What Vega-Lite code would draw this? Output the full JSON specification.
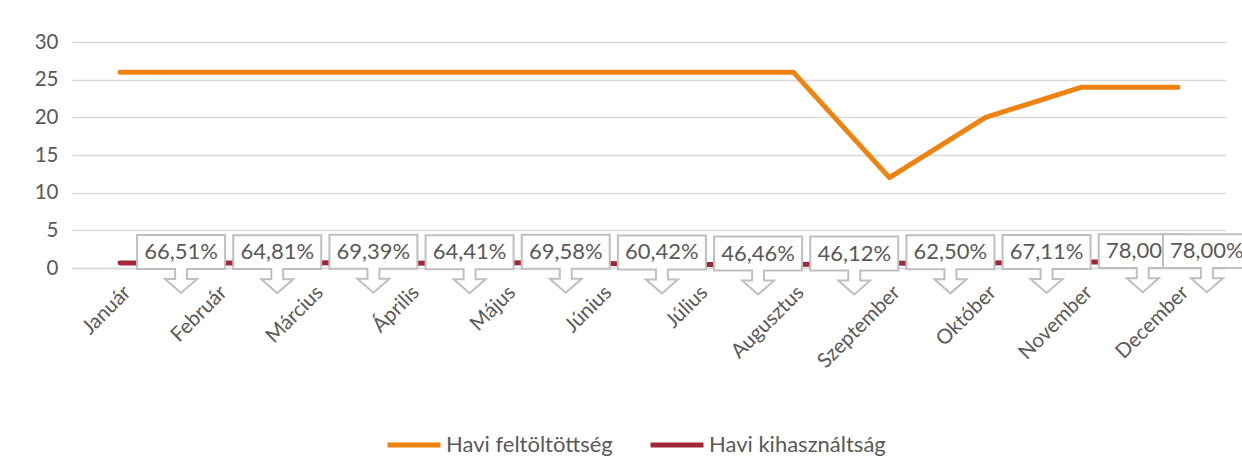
{
  "$schema": "https://vega.github.io/schema/vega-lite/v6.json",
  "width": 1154,
  "height": 226,
  "autosize": "none",
  "padding": {"left": 72, "top": 42, "right": 16, "bottom": 191},
  "background": "white",
  "config": {
    "view": {"stroke": null},
    "font": "Lato",
    "axis": {"labelFont": "Lato", "labelColor": "#595959", "labelFontSize": 20.5, "titleFont": "Lato"},
    "legend": {"labelFont": "Lato", "labelColor": "#595959", "labelFontSize": 22, "labelLimit": 400}
  },
  "data": {
    "values": [
      {"month": "Január", "series": "Havi feltöltöttség", "value": 26},
      {"month": "Február", "series": "Havi feltöltöttség", "value": 26},
      {"month": "Március", "series": "Havi feltöltöttség", "value": 26},
      {"month": "Április", "series": "Havi feltöltöttség", "value": 26},
      {"month": "Május", "series": "Havi feltöltöttség", "value": 26},
      {"month": "Június", "series": "Havi feltöltöttség", "value": 26},
      {"month": "Július", "series": "Havi feltöltöttség", "value": 26},
      {"month": "Augusztus", "series": "Havi feltöltöttség", "value": 26},
      {"month": "Szeptember", "series": "Havi feltöltöttség", "value": 12},
      {"month": "Október", "series": "Havi feltöltöttség", "value": 20},
      {"month": "November", "series": "Havi feltöltöttség", "value": 24},
      {"month": "December", "series": "Havi feltöltöttség", "value": 24},
      {"month": "Január", "series": "Havi kihasználtság", "value": 0.6651, "label": "66,51%"},
      {"month": "Február", "series": "Havi kihasználtság", "value": 0.6481, "label": "64,81%"},
      {"month": "Március", "series": "Havi kihasználtság", "value": 0.6939, "label": "69,39%"},
      {"month": "Április", "series": "Havi kihasználtság", "value": 0.6441, "label": "64,41%"},
      {"month": "Május", "series": "Havi kihasználtság", "value": 0.6958, "label": "69,58%"},
      {"month": "Június", "series": "Havi kihasználtság", "value": 0.6042, "label": "60,42%"},
      {"month": "Július", "series": "Havi kihasználtság", "value": 0.4646, "label": "46,46%"},
      {"month": "Augusztus", "series": "Havi kihasználtság", "value": 0.4612, "label": "46,12%"},
      {"month": "Szeptember", "series": "Havi kihasználtság", "value": 0.625, "label": "62,50%"},
      {"month": "Október", "series": "Havi kihasználtság", "value": 0.6711, "label": "67,11%"},
      {"month": "November", "series": "Havi kihasználtság", "value": 0.78, "label": "78,00%"},
      {"month": "December", "series": "Havi kihasználtság", "value": 0.78, "label": "78,00%"}
    ]
  },
  "encoding": {
    "x": {
      "field": "month",
      "type": "nominal",
      "sort": null,
      "scale": {"type": "point", "padding": 0.5},
      "axis": {
        "title": null,
        "labelAngle": -45,
        "labelAlign": "right",
        "labelBaseline": "top",
        "labelPadding": 14,
        "ticks": false,
        "domain": true,
        "domainColor": "#d9d9d9",
        "domainWidth": 1.5,
        "grid": false
      }
    },
    "y": {
      "field": "value",
      "type": "quantitative",
      "scale": {"domain": [0, 30], "nice": false},
      "axis": {
        "title": null,
        "values": [0, 5, 10, 15, 20, 25, 30],
        "domain": false,
        "ticks": false,
        "labelPadding": 14,
        "gridColor": "#d9d9d9",
        "gridWidth": 1.5
      }
    }
  },
  "layer": [
    {
      "mark": {"type": "line", "strokeWidth": 5, "strokeCap": "round", "strokeJoin": "round"},
      "encoding": {
        "color": {
          "field": "series",
          "type": "nominal",
          "sort": ["Havi feltöltöttség", "Havi kihasználtság"],
          "scale": {"domain": ["Havi feltöltöttség", "Havi kihasználtság"], "range": ["#f0820f", "#a32638"]},
          "legend": {
            "title": null,
            "orient": "none",
            "direction": "horizontal",
            "legendX": 313,
            "legendY": 374,
            "symbolType": "stroke",
            "symbolSize": 2809,
            "symbolStrokeWidth": 5,
            "labelOffset": 3,
            "columnPadding": 27
          }
        }
      }
    },
    {
      "transform": [{"filter": "datum.series === 'Havi kihasználtság' && datum.month !== 'December'"}],
      "mark": {
        "type": "point",
        "shape": "M-1,-0.636 H1 V0.136 H0.136 V0.364 H0.364 L0,0.682 L-0.364,0.364 H-0.136 V0.136 H-1 Z",
        "size": 7744,
        "filled": true,
        "fill": "white",
        "fillOpacity": 1,
        "opacity": 1,
        "stroke": "#bfbfbf",
        "strokeWidth": 2,
        "xOffset": 61
      }
    },
    {
      "transform": [{"filter": "datum.series === 'Havi kihasználtság' && datum.month !== 'December'"}],
      "mark": {"type": "text", "font": "Lato", "fontSize": 22, "color": "#595959", "baseline": "middle", "align": "center", "xOffset": 61, "dy": -11},
      "encoding": {"text": {"field": "label"}}
    },
    {
      "transform": [{"filter": "datum.series === 'Havi kihasználtság' && datum.month === 'December'"}],
      "mark": {
        "type": "point",
        "shape": "M-1,-0.636 H1 V0.136 H0.136 V0.364 H0.364 L0,0.682 L-0.364,0.364 H-0.136 V0.136 H-1 Z",
        "size": 7744,
        "filled": true,
        "fill": "white",
        "fillOpacity": 1,
        "opacity": 1,
        "stroke": "#bfbfbf",
        "strokeWidth": 2,
        "xOffset": 29
      }
    },
    {
      "transform": [{"filter": "datum.series === 'Havi kihasználtság' && datum.month === 'December'"}],
      "mark": {"type": "text", "font": "Lato", "fontSize": 22, "color": "#595959", "baseline": "middle", "align": "center", "xOffset": 29, "dy": -11},
      "encoding": {"text": {"field": "label"}}
    }
  ]
}
